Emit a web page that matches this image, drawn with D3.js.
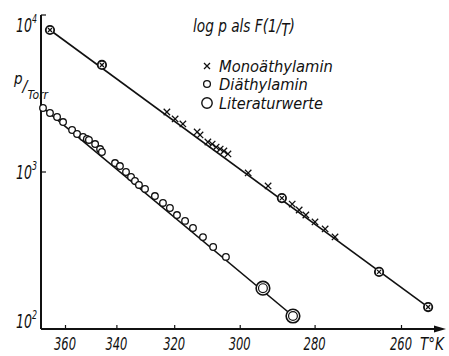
<!DOCTYPE html>
<html>
<head>
<meta charset="utf-8">
<script src="https://cdn.jsdelivr.net/npm/d3@7"></script>
<style>
  body { margin: 0; background: #fff; }
  svg text { font-family: "Liberation Sans Narrow", "DejaVu Sans Condensed", "Liberation Sans", sans-serif; font-style: italic; fill: #111; }
</style>
</head>
<body>
<div id="chart"></div>
<script>
// vapour pressure data, T in K, p in Torr
var monoT = [322.4, 319.7, 317.2, 312.7, 311.8, 309.4, 308.1, 306.9, 305.7, 304.6, 303.4, 297.6, 292.1, 285.7, 283.9, 282.2, 279.9, 277.4, 275.0];
var monoP = [2410, 2177, 2023, 1799, 1722, 1552, 1507, 1442, 1400, 1361, 1303, 986, 815, 625, 573, 532, 481, 434, 386];
// crossed circles on the mono line
var monoLitT = [366.3, 345.4, 288.4, 264.8, 254.3];
var monoLitP = [8026, 4806, 682, 231, 138];

var diT = [369.3, 366.3, 363.3, 360.8, 357.1, 355.1, 352.7, 351.2, 350.4, 348.0, 346.1, 345.4, 340.5, 338.7, 336.5, 334.7, 333.3, 331.9, 329.8, 326.4, 323.7, 321.4, 319.1, 316.5, 314.0, 310.9, 307.8, 304.0];
var diP = [2557, 2376, 2240, 2081, 1852, 1746, 1671, 1622, 1600, 1507, 1400, 1341, 1140, 1091, 1000, 929, 877, 827, 780, 703, 635, 590, 532, 488, 440, 385, 333, 288];
// Literaturwerte
var litT = [293.5, 285.5];
var litP = [182, 121];

// fitted lines (end points)
var monoLineT = [366.3, 254.3];
var monoLineP = [8026, 138];
var diLineT = [369.3, 285.5];
var diLineP = [2557, 121];

var xTicks = [360, 340, 320, 300, 280, 260];
var yTicks = [1e2, 1e3, 1e4];
var yTickExp = ["2", "3", "4"];
var legendLabels = ["Monoäthylamin", "Diäthylamin", "Literaturwerte"];

var W = 449, H = 356;
var svg = d3.select("#chart").append("svg").attr("width", W).attr("height", H);

// squeeze a text horizontally to a given width
function squeeze(sel, x, y, w) {
  var n = sel.node().getComputedTextLength();
  sel.attr("transform", "translate(" + x + "," + y + ") scale(" + (w / n) + ",1)");
}

// x is linear in 1/T
var x = d3.scaleLinear().domain([1 / 360, 1 / 260]).range([65, 401]);
var y = d3.scaleLog().domain([100, 10000]).range([329, 15]);
var X = function(T) { return x(1 / T); };

var x0 = 41, xEnd = 446, y0 = 329;

// x axis
var gx = svg.append("g").attr("transform", "translate(0," + y0 + ")");
gx.call(d3.axisBottom(x).tickValues(xTicks.map(function(t) { return 1 / t; }))
  .tickFormat(function(v) { return Math.round(1 / v); })
  .tickSizeInner(-4).tickSizeOuter(0).tickPadding(9));
gx.select(".domain").remove();
gx.selectAll("line").attr("stroke", "#111").attr("stroke-width", 1.2);
gx.selectAll("text").remove();

svg.selectAll(".xlab").data(xTicks).enter().append("text")
  .attr("font-size", 18).attr("text-anchor", "start").text(function(d) { return d; })
  .each(function(d) { squeeze(d3.select(this), X(d) - 11, y0 + 21, 22); });

svg.append("line").attr("x1", x0).attr("x2", xEnd - 8).attr("y1", y0).attr("y2", y0)
  .attr("stroke", "#111").attr("stroke-width", 2);
svg.append("path").attr("d", d3.line()([[xEnd - 12, y0 - 3.5], [xEnd, y0], [xEnd - 12, y0 + 3.5]]) + "Z")
  .attr("fill", "#111");
squeeze(svg.append("text").attr("font-size", 18).text("T°K"), 420, y0 + 21, 24);

// y axis
svg.append("line").attr("x1", x0).attr("x2", x0).attr("y1", y(1e4)).attr("y2", y0)
  .attr("stroke", "#111").attr("stroke-width", 2);
svg.selectAll(".ytick").data(yTicks.slice(1)).enter().append("line")
  .attr("x1", x0).attr("x2", x0 + 5)
  .attr("y1", function(d) { return y(d); }).attr("y2", function(d) { return y(d); })
  .attr("stroke", "#111").attr("stroke-width", 1.2);

// labels sit below their tick at the top, beside it lower down
var yLabelDy = [-1, 7, 17];
yTicks.forEach(function(d, i) {
  var lab = svg.append("text").attr("font-size", 19);
  lab.append("tspan").text("10");
  lab.append("tspan").attr("dy", -9).attr("font-size", 12).text(yTickExp[i]);
  squeeze(lab, 16, y(d) + yLabelDy[i], 21);
});

// y label p/Torr
var pl = svg.append("text").attr("x", 14).attr("y", 84).attr("font-size", 15);
pl.append("tspan").text("p");
pl.append("tspan").attr("dy", 8).attr("font-size", 16).text("/");
pl.append("tspan").attr("dy", 7).attr("font-size", 12).text("Torr");

// lines
var line = d3.line().x(function(d) { return X(d[0]); }).y(function(d) { return y(d[1]); });
svg.append("path").attr("d", line(d3.zip(monoLineT, monoLineP)))
  .attr("fill", "none").attr("stroke", "#111").attr("stroke-width", 1.6);
svg.append("path").attr("d", line(d3.zip(diLineT, diLineP)))
  .attr("fill", "none").attr("stroke", "#111").attr("stroke-width", 1.6);

function cross(g, cx, cy, s) {
  g.append("path").attr("d", "M" + (cx - s) + "," + (cy - s) + "L" + (cx + s) + "," + (cy + s) +
    "M" + (cx - s) + "," + (cy + s) + "L" + (cx + s) + "," + (cy - s))
    .attr("stroke", "#111").attr("stroke-width", 1.3).attr("fill", "none");
}

var gm = svg.append("g");
d3.zip(monoT, monoP).forEach(function(d) { cross(gm, X(d[0]), y(d[1]), 3.2); });

var gml = svg.append("g");
d3.zip(monoLitT, monoLitP).forEach(function(d) {
  var cx = X(d[0]), cy = y(d[1]);
  gml.append("circle").attr("cx", cx).attr("cy", cy).attr("r", 4.2)
    .attr("fill", "#fff").attr("stroke", "#111").attr("stroke-width", 1.8);
  cross(gml, cx, cy, 2);
});

svg.append("g").selectAll("circle").data(d3.zip(diT, diP)).enter().append("circle")
  .attr("cx", function(d) { return X(d[0]); }).attr("cy", function(d) { return y(d[1]); })
  .attr("r", 3.3).attr("fill", "#fff").attr("stroke", "#111").attr("stroke-width", 1.3);

var gl = svg.append("g");
d3.zip(litT, litP).forEach(function(d) {
  var cx = X(d[0]), cy = y(d[1]);
  gl.append("circle").attr("cx", cx).attr("cy", cy).attr("r", 6.8)
    .attr("fill", "#fff").attr("stroke", "#111").attr("stroke-width", 1.6);
  gl.append("circle").attr("cx", cx).attr("cy", cy).attr("r", 4.4)
    .attr("fill", "none").attr("stroke", "#111").attr("stroke-width", 1.2);
});

// title and legend
var t = svg.append("text").attr("font-size", 17);
t.append("tspan").text("log p als F(1/");
t.append("tspan").attr("dy", 4).text("T");
t.append("tspan").attr("dy", -4).text(")");
squeeze(t, 193, 32, 102);

var lg = svg.append("g");
var rowY = [66, 84, 103];
var legendLen = [114, 89, 104];
cross(lg, 207, rowY[0], 3);
lg.append("circle").attr("cx", 207).attr("cy", rowY[1]).attr("r", 3.4)
  .attr("fill", "#fff").attr("stroke", "#111").attr("stroke-width", 1.3);
lg.append("circle").attr("cx", 207).attr("cy", rowY[2]).attr("r", 5.2)
  .attr("fill", "#fff").attr("stroke", "#111").attr("stroke-width", 1.4);
lg.selectAll(".lt").data(legendLabels).enter().append("text")
  .attr("font-size", 16).text(function(d) { return d; })
  .each(function(d, i) { squeeze(d3.select(this), 219, rowY[i] + 6, legendLen[i]); });
</script>
</body>
</html>
